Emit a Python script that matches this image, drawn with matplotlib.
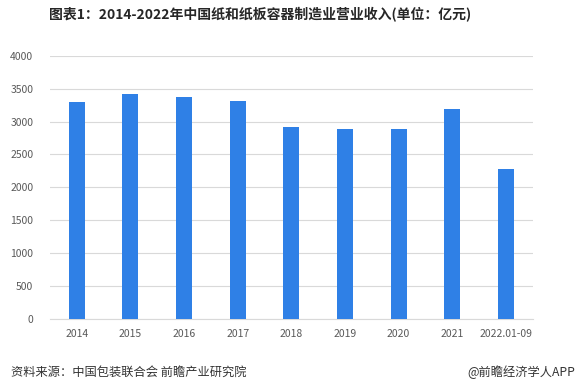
import matplotlib
matplotlib.use("Agg")
import matplotlib.pyplot as plt

plt.rcParams['font.family'] = ['Noto Sans CJK SC', 'DejaVu Sans']

categories = ["2014", "2015", "2016", "2017", "2018", "2019", "2020", "2021", "2022.01-09"]
revenue = [3298, 3414, 3374, 3318, 2919, 2894, 2894, 3197, 2273]
yticks = [0, 500, 1000, 1500, 2000, 2500, 3000, 3500, 4000]

title = "图表1：2014-2022年中国纸和纸板容器制造业营业收入(单位：亿元)"
source = "资料来源：中国包装联合会 前瞻产业研究院"
credit = "@前瞻经济学人APP"

fig = plt.figure(figsize=(5.81, 3.86), dpi=100)
ax = fig.add_axes([0.086, 0.1736, 0.831, 0.682])

x = range(len(categories))
ax.bar(x, revenue, width=0.3, color="#2F80E6", zorder=3)
ax.set_xlim(-0.5, len(categories) - 0.5)
ax.set_ylim(0, 4000)
ax.set_yticks(yticks)
ax.set_xticks(list(x))
ax.set_xticklabels(categories)
ax.grid(axis='y', color="#D9D9D9", linewidth=0.8, zorder=0)
for s in ['top', 'right', 'left']:
    ax.spines[s].set_visible(False)
ax.spines['bottom'].set_color("#D9D9D9")
ax.spines['bottom'].set_linewidth(0.8)
ax.tick_params(axis='both', length=0, labelsize=7.5, labelcolor="#595959")
ax.tick_params(axis='y', pad=12)
ax.tick_params(axis='x', pad=7)

fig.text(0.448, 0.961, title, ha='center', va='center', fontsize=10,
         fontweight='bold', color="#262626")
fig.text(0.019, 0.036, source, ha='left', va='center', fontsize=8.8, color="#333333")
fig.text(0.99, 0.036, credit, ha='right', va='center', fontsize=8.8, color="#333333")

fig.savefig("out.png", dpi=100)
